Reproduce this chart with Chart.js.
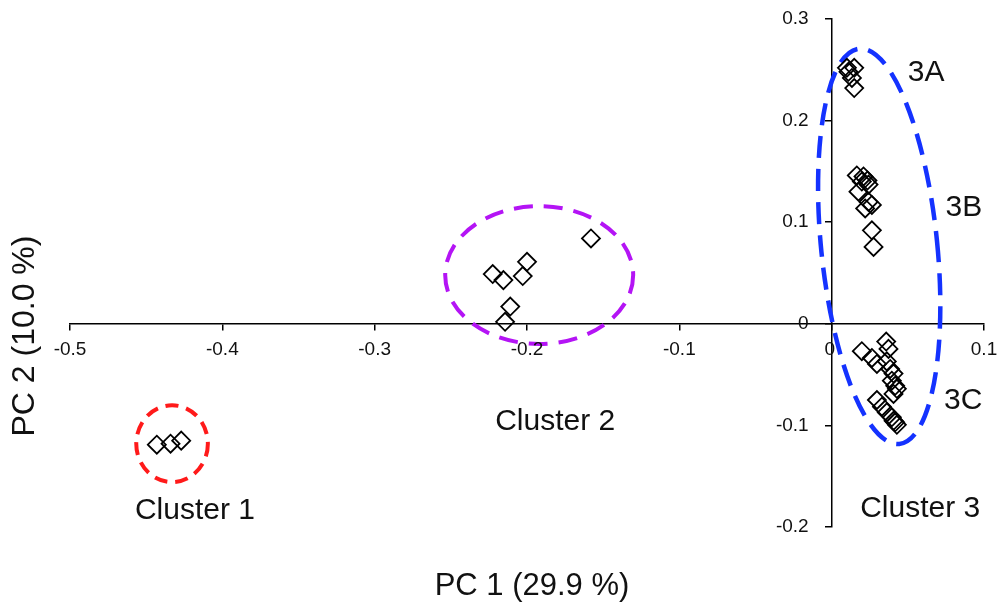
<!DOCTYPE html>
<html>
<head>
<meta charset="utf-8">
<script src="https://cdn.jsdelivr.net/npm/chart.js@4/dist/chart.umd.min.js"></script>
<style>
  html, body { margin: 0; padding: 0; background: #fff; }
  #wrap { width: 997px; height: 604px; position: relative; }
</style>
</head>
<body>
<div id="wrap"><canvas id="grafico"></canvas></div>
<script>
// Datos (PC1, PC2)
const cluster1X = [-0.443, -0.434, -0.427];
const cluster1Y = [-0.119, -0.118, -0.115];

const cluster2X = [-0.158, -0.2225, -0.2155, -0.200, -0.2028, -0.211, -0.2144];
const cluster2Y = [0.084, 0.049, 0.043, 0.061, 0.047, 0.017, 0.002];

// 3A, 3B y 3C
const cluster3X = [
    0.010, 0.0148, 0.0133, 0.0148, 0.011,
    0.0165, 0.0209, 0.0235, 0.0198, 0.0242, 0.0176, 0.0242, 0.0264, 0.022, 0.0264, 0.0275,
    0.0358, 0.0373, 0.0198, 0.0264, 0.0297, 0.0362, 0.0384, 0.0406, 0.0395, 0.0417,
    0.0406, 0.0428, 0.0297, 0.033, 0.0362, 0.0395, 0.0417, 0.0428, 0.0406
];
const cluster3Y = [
    0.252, 0.252, 0.242, 0.232, 0.248,
    0.146, 0.145, 0.141, 0.140, 0.137, 0.130, 0.120, 0.117, 0.1135, 0.092, 0.0757,
    -0.0175, -0.0247, -0.027, -0.0336, -0.0395, -0.037, -0.0444, -0.049, -0.056, -0.061,
    -0.069, -0.064, -0.075, -0.0816, -0.0872, -0.092, -0.097, -0.0994, -0.0955
];

const xTicks = [-0.5, -0.4, -0.3, -0.2, -0.1, 0, 0.1];
const yTicks = [-0.2, -0.1, 0, 0.1, 0.2, 0.3];

const tituloX = "PC 1 (29.9 %)";
const tituloY = "PC 2 (10.0 %)";

// Etiquetas de los grupos [texto, x, y(linea base)]
const etiquetas = [
    ["Cluster 1", -0.418, -0.192],
    ["Cluster 2", -0.1815, -0.105],
    ["Cluster 3", 0.0581, -0.190],
    ["3A", 0.062, 0.2385],
    ["3B", 0.0868, 0.106],
    ["3C", 0.0863, -0.084]
];

// Elipses punteadas (centro y radios en unidades de los ejes)
const elipses = [
    { cx: -0.433, cy: -0.118, rx: 0.0235, ry: 0.0378, giro: 0, color: "#ff1a1a", ancho: 4, guion: [13, 8] },
    { cx: -0.192, cy: 0.048, rx: 0.0617, ry: 0.0678, giro: 0, color: "#b414f5", ancho: 4, guion: [19, 11] },
    { cx: 0.0312, cy: 0.0763, rx: 0.0381, ry: 0.1955, giro: -5.8, color: "#1432ff", ancho: 4.5, guion: [22, 11] }
];

const toPoints = (xs, ys) => xs.map((x, i) => ({ x: x, y: ys[i] }));

const fmt = v => (Math.abs(v) < 1e-9 ? "0" : Number(v).toFixed(1));

const fuente = "'Liberation Sans', Arial, sans-serif";

// =====================
// Plugin: elipses, etiquetas de ticks, textos y titulos de ejes
// =====================
const anotaciones = {
    id: "anotaciones",
    beforeDatasetsDraw(chart) {
        const ctx = chart.ctx;
        const sx = chart.scales.x;
        const sy = chart.scales.y;
        ctx.save();
        elipses.forEach(e => {
            const cx = sx.getPixelForValue(e.cx);
            const cy = sy.getPixelForValue(e.cy);
            const rx = Math.abs(sx.getPixelForValue(e.cx + e.rx) - cx);
            const ry = Math.abs(sy.getPixelForValue(e.cy + e.ry) - cy);
            ctx.beginPath();
            ctx.ellipse(cx, cy, rx, ry, e.giro * Math.PI / 180, 0, Math.PI * 2);
            ctx.strokeStyle = e.color;
            ctx.lineWidth = e.ancho;
            ctx.setLineDash(e.guion);
            ctx.stroke();
        });
        ctx.restore();
    },
    afterDraw(chart) {
        const ctx = chart.ctx;
        const sx = chart.scales.x;
        const sy = chart.scales.y;
        const x0 = sx.getPixelForValue(0);
        const y0 = sy.getPixelForValue(0);
        ctx.save();
        ctx.fillStyle = "#111";

        // etiquetas de los ticks
        ctx.font = "19px " + fuente;
        ctx.textBaseline = "middle";
        ctx.textAlign = "center";
        xTicks.forEach(v => ctx.fillText(fmt(v), sx.getPixelForValue(v) - (v === 0 ? 2 : 0), y0 + 26));
        ctx.textAlign = "right";
        yTicks.forEach(v => ctx.fillText(fmt(v), x0 - 23, sy.getPixelForValue(v)));

        // nombres de los grupos
        ctx.font = "30px " + fuente;
        ctx.textAlign = "center";
        ctx.textBaseline = "alphabetic";
        etiquetas.forEach(t => {
            ctx.fillText(t[0], sx.getPixelForValue(t[1]), sy.getPixelForValue(t[2]));
        });

        // titulo eje X
        ctx.font = "31px " + fuente;
        ctx.fillText(tituloX, 532, 595);
        // titulo eje Y
        ctx.font = "32px " + fuente;
        ctx.translate(34, 336);
        ctx.rotate(-Math.PI / 2);
        ctx.fillText(tituloY, 0, 0);
        ctx.restore();
    }
};

const estiloPunto = {
    pointStyle: "rectRot",
    pointRadius: 9,
    pointHoverRadius: 9,
    borderColor: "#000",
    backgroundColor: "rgba(0,0,0,0)",
    borderWidth: 1.8,
    showLine: false
};

const ctx1 = document.getElementById("grafico").getContext("2d");
new Chart(ctx1, {
    type: "scatter",
    data: {
        datasets: [
            Object.assign({ label: "Cluster 1", data: toPoints(cluster1X, cluster1Y) }, estiloPunto),
            Object.assign({ label: "Cluster 2", data: toPoints(cluster2X, cluster2Y) }, estiloPunto),
            Object.assign({ label: "Cluster 3", data: toPoints(cluster3X, cluster3Y) }, estiloPunto)
        ]
    },
    options: {
        responsive: true,
        maintainAspectRatio: false,
        animation: false,
        layout: { padding: { left: 70, right: 13, top: 19, bottom: 77 } },
        plugins: {
            legend: { display: false },
            tooltip: { enabled: false }
        },
        scales: {
            x: {
                type: "linear",
                position: { y: 0 },
                min: xTicks[0],
                max: xTicks[xTicks.length - 1],
                afterBuildTicks: s => { s.ticks = xTicks.map(v => ({ value: v })); },
                grid: { drawOnChartArea: false, drawTicks: true, tickLength: 6, color: "#000", lineWidth: 1.5 },
                border: { display: true, color: "#000", width: 1.5 },
                ticks: { display: false }
            },
            y: {
                type: "linear",
                position: { x: 0 },
                min: yTicks[0],
                max: yTicks[yTicks.length - 1],
                afterBuildTicks: s => { s.ticks = yTicks.map(v => ({ value: v })); },
                grid: { drawOnChartArea: false, drawTicks: true, tickLength: 6, color: "#000", lineWidth: 1.5 },
                border: { display: true, color: "#000", width: 1.5 },
                ticks: { display: false }
            }
        }
    },
    plugins: [anotaciones]
});
</script>
</body>
</html>
